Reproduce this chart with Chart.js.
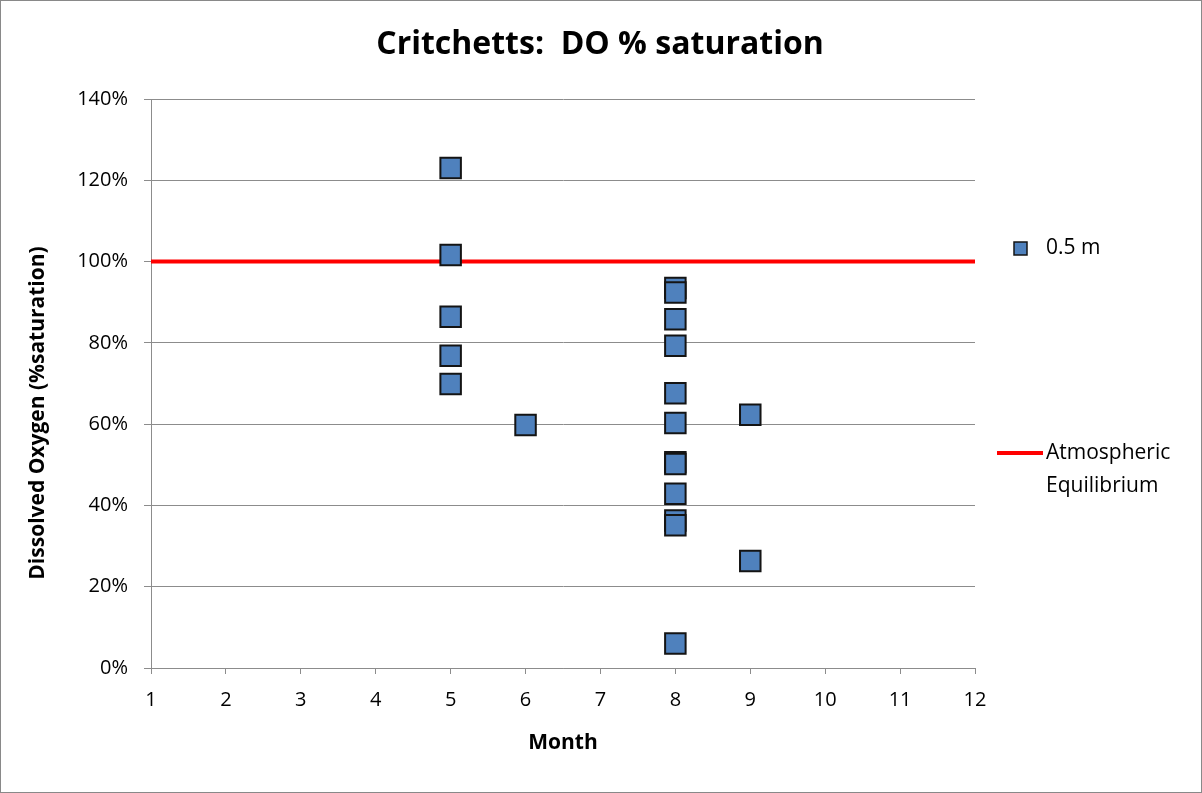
<!DOCTYPE html>
<html>
<head>
<meta charset="utf-8">
<script src="https://cdn.jsdelivr.net/npm/chart.js@4"></script>
<style>
  html, body { margin: 0; padding: 0; background: #fff; }
  #wrap { position: relative; width: 1200px; height: 791px; border: 1px solid #898989; }
  canvas { display: block; }
</style>
</head>
<body>
<div id="wrap"><canvas id="chart" width="1200" height="791"></canvas></div>
<script>
// values (percent saturation)
const months = [5, 5, 5, 5, 5, 6, 8, 8, 8, 8, 8, 8, 8, 8, 8, 8, 8, 8, 9, 9];
const doSat = [123.0, 101.6, 86.4, 76.8, 69.9, 59.8, 93.5, 92.4, 85.8, 79.3, 67.6, 60.3, 50.6, 50.2, 42.9, 36.3, 35.1, 6.0, 62.3, 26.3];
const equilibriumX = [1, 12];
const equilibriumY = [100, 100];
const seriesNames = ['0.5 m', ['Atmospheric', 'Equilibrium']];
const chartTitle = 'Critchetts:  DO % saturation';
const xTitle = 'Month';
const yTitle = 'Dissolved Oxygen (%saturation)';

const FONT = "'Open Sans', 'DejaVu Sans', sans-serif";
const gridColor = '#8c8c8c';

// title, y title and legend drawn by hand (legend label wraps onto two lines)
const extras = {
    id: 'extras',
    afterDraw(chart) {
        const ctx = chart.ctx;
        const ds = chart.data.datasets;
        ctx.save();
        ctx.fillStyle = '#000';
        ctx.textBaseline = 'middle';

        ctx.textAlign = 'center';
        ctx.font = `bold 32px ${FONT}`;
        ctx.fillText(chartTitle, 599, 44);

        ctx.save();
        ctx.translate(37, 412);
        ctx.rotate(-Math.PI / 2);
        ctx.font = `bold 21px ${FONT}`;
        ctx.fillText(yTitle, 0, 0);
        ctx.restore();

        ctx.textAlign = 'left';
        ctx.font = `21px ${FONT}`;

        // marker item
        ctx.fillStyle = ds[0].backgroundColor;
        ctx.strokeStyle = ds[0].borderColor;
        ctx.lineWidth = 1.5;
        ctx.fillRect(1013, 241, 13, 13);
        ctx.strokeRect(1013, 241, 13, 13);
        ctx.fillStyle = '#000';
        ctx.fillText(seriesNames[0], 1045, 247);

        // line item
        ctx.strokeStyle = ds[1].borderColor;
        ctx.lineWidth = 4;
        ctx.beginPath();
        ctx.moveTo(996, 452);
        ctx.lineTo(1042, 452);
        ctx.stroke();
        ctx.fillText(seriesNames[1][0], 1045, 452);
        ctx.fillText(seriesNames[1][1], 1045, 485);
        ctx.restore();
    }
};

new Chart(document.getElementById('chart'), {
    type: 'scatter',
    data: {
        datasets: [{
            label: seriesNames[0],
            data: months.map((m, i) => ({ x: m, y: doSat[i] })),
            pointStyle: 'rect',
            pointRadius: 14.5,
            backgroundColor: '#4f81bd',
            borderColor: '#141414',
            borderWidth: 2,
            order: 1
        }, {
            label: seriesNames[1].join(' '),
            type: 'line',
            data: equilibriumX.map((x, i) => ({ x: x, y: equilibriumY[i] })),
            borderColor: '#ff0000',
            borderWidth: 4,
            pointRadius: 0,
            order: 2
        }]
    },
    options: {
        responsive: false,
        animation: false,
        layout: { padding: { left: 0, right: 226, top: 98, bottom: 0 } },
        plugins: {
            legend: { display: false },
            tooltip: { enabled: false },
            title: { display: false }
        },
        scales: {
            x: {
                type: 'linear',
                min: 1,
                max: 12,
                ticks: { stepSize: 1, color: '#000', font: { family: FONT, size: 20 }, padding: 14 },
                grid: { display: true, drawOnChartArea: false, color: gridColor, tickLength: 6 },
                border: { color: gridColor, width: 1 },
                title: { display: true, text: xTitle, color: '#000', font: { family: FONT, size: 21, weight: 'bold' }, padding: { top: 0, bottom: 36 } },
                afterFit: s => { s.height = 124; }
            },
            y: {
                min: 0,
                max: 140,
                ticks: {
                    stepSize: 20,
                    color: '#000',
                    font: { family: FONT, size: 20 },
                    padding: 16,
                    callback: v => v + '%'
                },
                grid: { color: gridColor, tickLength: 7 },
                border: { color: gridColor, width: 1 },
                afterFit: s => { s.width = 150; }
            }
        }
    },
    plugins: [extras]
});
</script>
</body>
</html>
